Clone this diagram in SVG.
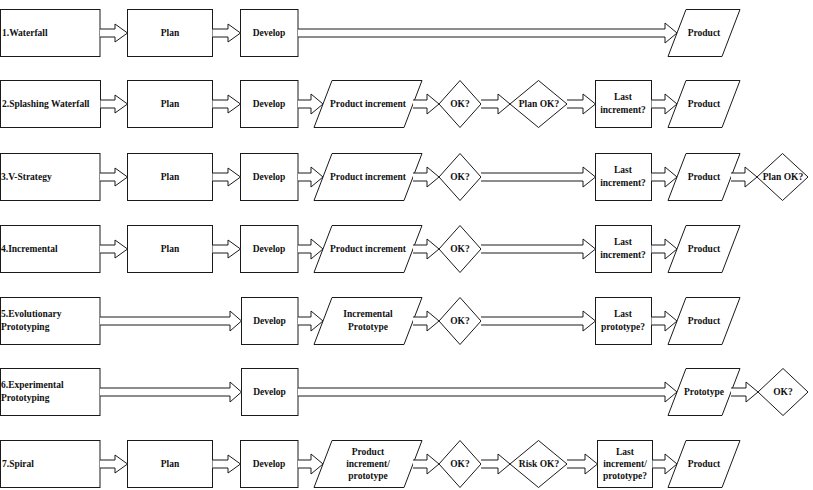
<svg xmlns="http://www.w3.org/2000/svg" width="813" height="490" viewBox="0 0 813 490">
<style>
.s{fill:#fff;stroke:#1a1a1a;stroke-width:1}
.a{fill:#fff;stroke:#1a1a1a;stroke-width:1}
text{font-family:"Liberation Serif","Times New Roman",serif;font-size:9.5px;font-weight:bold;fill:#111}
.c{text-anchor:middle}
</style>
<rect width="813" height="490" fill="#fff"/>
<!-- Row 1 (top 9, cy 32.5) -->
<g id="r1-label"><rect class="s" x="0.5" y="9.5" width="99.5" height="47"/><text x="2" y="36">1.Waterfall</text></g>
<g id="r1-plan"><rect class="s" x="127.5" y="9.5" width="85" height="47"/><text class="c" x="170" y="36">Plan</text></g>
<g id="r1-develop"><rect class="s" x="240.5" y="9.5" width="57.5" height="47"/><text class="c" x="269" y="36">Develop</text></g>
<g id="r1-product"><polygon class="s" points="686,9.5 740,9.5 722,56.5 668,56.5"/><text class="c" x="704" y="36">Product</text></g>
<!-- Row 2 (top 80, cy 103.5) -->
<g id="r2-label"><rect class="s" x="0.5" y="80.5" width="100" height="47"/><text x="2" y="107">2.Splashing Waterfall</text></g>
<g id="r2-plan"><rect class="s" x="127.5" y="80.5" width="85" height="47"/><text class="c" x="170" y="107">Plan</text></g>
<g id="r2-develop"><rect class="s" x="240.5" y="80.5" width="57.5" height="47"/><text class="c" x="269" y="107">Develop</text></g>
<g id="r2-increment"><polygon class="s" points="332,80.5 422,80.5 404,127.5 314,127.5"/><text class="c" x="368" y="107">Product increment</text></g>
<g id="r2-ok"><polygon class="s" points="460,80.5 481,104 460,127.5 439,104"/><text class="c" x="460" y="107">OK?</text></g>
<g id="r2-planok"><polygon class="s" points="538.5,80.5 567,104 538.5,127.5 510,104"/><text class="c" x="539" y="107">Plan OK?</text></g>
<g id="r2-last"><rect class="s" x="595.5" y="80.5" width="56" height="47"/><text class="c" x="623" y="100">Last</text><text class="c" x="623" y="113">increment?</text></g>
<g id="r2-product"><polygon class="s" points="686,80.5 740,80.5 722,127.5 668,127.5"/><text class="c" x="704" y="107">Product</text></g>
<!-- Row 3 (top 153, cy 176.5) -->
<g id="r3-label"><rect class="s" x="0.5" y="153.5" width="99.5" height="47"/><text x="1" y="180">3.V-Strategy</text></g>
<g id="r3-plan"><rect class="s" x="127.5" y="153.5" width="85" height="47"/><text class="c" x="170" y="180">Plan</text></g>
<g id="r3-develop"><rect class="s" x="240.5" y="153.5" width="57.5" height="47"/><text class="c" x="269" y="180">Develop</text></g>
<g id="r3-increment"><polygon class="s" points="332,153.5 422,153.5 404,200.5 314,200.5"/><text class="c" x="368" y="180">Product increment</text></g>
<g id="r3-ok"><polygon class="s" points="460,153.5 481,177 460,200.5 439,177"/><text class="c" x="460" y="180">OK?</text></g>
<g id="r3-last"><rect class="s" x="595.5" y="153.5" width="56" height="47"/><text class="c" x="623" y="173">Last</text><text class="c" x="623" y="186">increment?</text></g>
<g id="r3-product"><polygon class="s" points="686,153.5 740,153.5 722,200.5 668,200.5"/><text class="c" x="704" y="180">Product</text></g>
<g id="r3-planok"><polygon class="s" points="782.5,153.5 808,177 782.5,200.5 757,177"/><text class="c" x="783" y="180">Plan OK?</text></g>
<!-- Row 4 (top 225, cy 248.5) -->
<g id="r4-label"><rect class="s" x="0.5" y="225.5" width="99.5" height="47"/><text x="1" y="252">4.Incremental</text></g>
<g id="r4-plan"><rect class="s" x="127.5" y="225.5" width="85" height="47"/><text class="c" x="170" y="252">Plan</text></g>
<g id="r4-develop"><rect class="s" x="240.5" y="225.5" width="57.5" height="47"/><text class="c" x="269" y="252">Develop</text></g>
<g id="r4-increment"><polygon class="s" points="332,225.5 422,225.5 404,272.5 314,272.5"/><text class="c" x="368" y="252">Product increment</text></g>
<g id="r4-ok"><polygon class="s" points="460,225.5 481,249 460,272.5 439,249"/><text class="c" x="460" y="252">OK?</text></g>
<g id="r4-last"><rect class="s" x="595.5" y="225.5" width="56" height="47"/><text class="c" x="623" y="245">Last</text><text class="c" x="623" y="258">increment?</text></g>
<g id="r4-product"><polygon class="s" points="686,225.5 740,225.5 722,272.5 668,272.5"/><text class="c" x="704" y="252">Product</text></g>
<!-- Row 5 (top 297, cy 320.5) -->
<g id="r5-label"><rect class="s" x="0.5" y="297.5" width="99.5" height="47"/><text x="1" y="317">5.Evolutionary</text><text x="1" y="330">Prototyping</text></g>
<g id="r5-develop"><rect class="s" x="241.5" y="297.5" width="56.5" height="47"/><text class="c" x="269.5" y="324">Develop</text></g>
<g id="r5-increment"><polygon class="s" points="332,297.5 422,297.5 404,344.5 314,344.5"/><text class="c" x="368" y="317">Incremental</text><text class="c" x="368" y="330">Prototype</text></g>
<g id="r5-ok"><polygon class="s" points="460,297.5 481,321 460,344.5 439,321"/><text class="c" x="460" y="324">OK?</text></g>
<g id="r5-last"><rect class="s" x="595.5" y="297.5" width="56" height="47"/><text class="c" x="623" y="317">Last</text><text class="c" x="623" y="330">prototype?</text></g>
<g id="r5-product"><polygon class="s" points="686,297.5 740,297.5 722,344.5 668,344.5"/><text class="c" x="704" y="324">Product</text></g>
<!-- Row 6 (top 368, cy 391.5) -->
<g id="r6-label"><rect class="s" x="0.5" y="368.5" width="99.5" height="47"/><text x="1" y="388">6.Experimental</text><text x="1" y="401">Prototyping</text></g>
<g id="r6-develop"><rect class="s" x="241.5" y="368.5" width="56.5" height="47"/><text class="c" x="269.5" y="395">Develop</text></g>
<g id="r6-prototype"><polygon class="s" points="686,368.5 740,368.5 722,415.5 668,415.5"/><text class="c" x="704" y="395">Prototype</text></g>
<g id="r6-ok"><polygon class="s" points="783,368.5 808,392 783,415.5 758,392"/><text class="c" x="783" y="395">OK?</text></g>
<!-- Row 7 (top 440, cy 463.5) -->
<g id="r7-label"><rect class="s" x="0.5" y="440.5" width="99.5" height="47"/><text x="2" y="467">7.Spiral</text></g>
<g id="r7-plan"><rect class="s" x="127.5" y="440.5" width="85" height="47"/><text class="c" x="170" y="467">Plan</text></g>
<g id="r7-develop"><rect class="s" x="240.5" y="440.5" width="57.5" height="47"/><text class="c" x="269" y="467">Develop</text></g>
<g id="r7-increment"><polygon class="s" points="332,440.5 422,440.5 404,487.5 314,487.5"/><text class="c" x="368" y="455">Product</text><text class="c" x="368" y="467">increment/</text><text class="c" x="368" y="479">prototype</text></g>
<g id="r7-ok"><polygon class="s" points="460,440.5 481,464 460,487.5 439,464"/><text class="c" x="460" y="467">OK?</text></g>
<g id="r7-riskok"><polygon class="s" points="538.5,440.5 567,464 538.5,487.5 510,464"/><text class="c" x="539" y="467">Risk OK?</text></g>
<g id="r7-last"><rect class="s" x="597.5" y="440.5" width="55" height="47"/><text class="c" x="625" y="455">Last</text><text class="c" x="625" y="467">increment/</text><text class="c" x="625" y="479">prototype?</text></g>
<g id="r7-product"><polygon class="s" points="686,440.5 740,440.5 722,487.5 668,487.5"/><text class="c" x="704" y="467">Product</text></g>
<!-- Connectors: block arrows -->
<g id="connectors">
<!-- row 1, cy 33 -->
<path class="a" d="M100,29 H115 V24 L127.5,33 L115,42 V37 H100"/>
<path class="a" d="M212.5,29 H228 V24 L240.5,33 L228,42 V37 H212.5"/>
<path class="a" d="M298,29 H665 V23 L677,33 L665,43 V37 H298"/>
<!-- row 2, cy 104 -->
<path class="a" d="M100.5,100 H115 V95 L127.5,104 L115,113 V108 H100.5"/>
<path class="a" d="M212.5,100 H228 V95 L240.5,104 L228,113 V108 H212.5"/>
<path class="a" d="M298,100 H311 V94 L323,104 L311,114 V108 H298"/>
<path class="a" d="M413,100 H427 V94 L439,104 L427,114 V108 H413"/>
<path class="a" d="M481,100 H498 V94 L510,104 L498,114 V108 H481"/>
<path class="a" d="M567,100 H583 V94 L595.5,104 L583,114 V108 H567"/>
<path class="a" d="M651.5,100 H665 V94 L677,104 L665,114 V108 H651.5"/>
<!-- row 3, cy 177 -->
<path class="a" d="M100,173 H115 V168 L127.5,177 L115,186 V181 H100"/>
<path class="a" d="M212.5,173 H228 V168 L240.5,177 L228,186 V181 H212.5"/>
<path class="a" d="M298,173 H311 V167 L323,177 L311,187 V181 H298"/>
<path class="a" d="M413,173 H427 V167 L439,177 L427,187 V181 H413"/>
<path class="a" d="M481,173 H583 V167 L595.5,177 L583,187 V181 H481"/>
<path class="a" d="M651.5,173 H665 V167 L677,177 L665,187 V181 H651.5"/>
<path class="a" d="M731,173 H745 V167 L757,177 L745,187 V181 H731"/>
<!-- row 4, cy 249 -->
<path class="a" d="M100,245 H115 V240 L127.5,249 L115,258 V253 H100"/>
<path class="a" d="M212.5,245 H228 V240 L240.5,249 L228,258 V253 H212.5"/>
<path class="a" d="M298,245 H311 V239 L323,249 L311,259 V253 H298"/>
<path class="a" d="M413,245 H427 V239 L439,249 L427,259 V253 H413"/>
<path class="a" d="M481,245 H583 V239 L595.5,249 L583,259 V253 H481"/>
<path class="a" d="M651.5,245 H665 V239 L677,249 L665,259 V253 H651.5"/>
<!-- row 5, cy 321 -->
<path class="a" d="M100,317 H230 V311 L241.5,321 L230,331 V325 H100"/>
<path class="a" d="M298,317 H311 V311 L323,321 L311,331 V325 H298"/>
<path class="a" d="M413,317 H427 V311 L439,321 L427,331 V325 H413"/>
<path class="a" d="M481,317 H583 V311 L595.5,321 L583,331 V325 H481"/>
<path class="a" d="M651.5,317 H665 V311 L677,321 L665,331 V325 H651.5"/>
<!-- row 6, cy 392 -->
<path class="a" d="M100,388 H230 V382 L241.5,392 L230,402 V396 H100"/>
<path class="a" d="M298,388 H665 V382 L677,392 L665,402 V396 H298"/>
<path class="a" d="M731,388 H746 V382 L758,392 L746,402 V396 H731"/>
<!-- row 7, cy 464 -->
<path class="a" d="M100,460 H115 V455 L127.5,464 L115,473 V468 H100"/>
<path class="a" d="M212.5,460 H228 V455 L240.5,464 L228,473 V468 H212.5"/>
<path class="a" d="M298,460 H311 V454 L323,464 L311,474 V468 H298"/>
<path class="a" d="M413,460 H427 V454 L439,464 L427,474 V468 H413"/>
<path class="a" d="M481,460 H498 V454 L510,464 L498,474 V468 H481"/>
<path class="a" d="M567,460 H585 V454 L597.5,464 L585,474 V468 H567"/>
<path class="a" d="M652.5,460 H665 V454 L677,464 L665,474 V468 H652.5"/>
</g>
</svg>
